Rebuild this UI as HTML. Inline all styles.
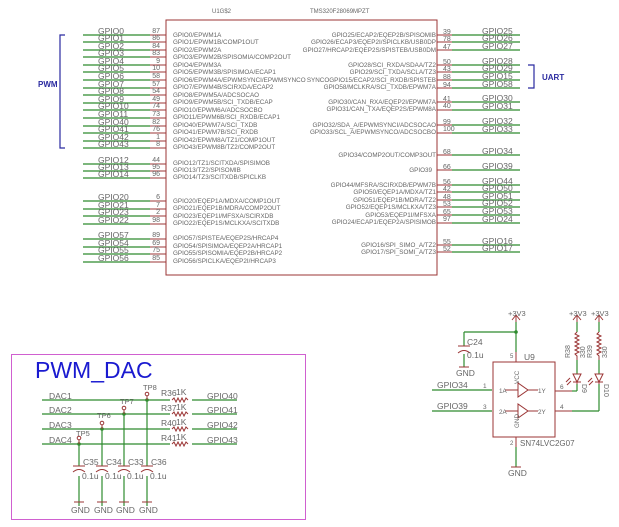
<!DOCTYPE html>
<html><head><meta charset="utf-8"><style>
html,body{margin:0;padding:0;background:#fff;width:619px;height:527px;overflow:hidden}
text{font-family:"Liberation Sans",Arial,sans-serif;fill:#666}
.g{stroke:#2e8b2e;stroke-width:1.2;fill:none}
.r{stroke:#9b3535;stroke-width:1;fill:none}
.lbl{font-size:8.5px;fill:#777}
.pn{font-size:7px;fill:#777}
.in{font-size:6.3px;fill:#666}
</style></head><body>
<svg width="619" height="527" viewBox="0 0 619 527" xmlns="http://www.w3.org/2000/svg">
<text x="212" y="13" font-size="6" fill="#666">U1G$2</text>
<text x="310" y="13" font-size="6" fill="#666">TMS320F28069MPZT</text>
<rect x="166" y="20" width="271" height="255" class="r"/>

<!-- left pins -->
<g id="L">
<g class="g">
<line x1="83" y1="35" x2="150" y2="35"/><line x1="83" y1="42" x2="150" y2="42"/><line x1="83" y1="50" x2="150" y2="50"/><line x1="83" y1="57" x2="150" y2="57"/><line x1="83" y1="65" x2="150" y2="65"/><line x1="83" y1="72" x2="150" y2="72"/><line x1="83" y1="80" x2="150" y2="80"/><line x1="83" y1="88" x2="150" y2="88"/><line x1="83" y1="95" x2="150" y2="95"/><line x1="83" y1="103" x2="150" y2="103"/><line x1="83" y1="110" x2="150" y2="110"/><line x1="83" y1="118" x2="150" y2="118"/><line x1="83" y1="126" x2="150" y2="126"/><line x1="83" y1="133" x2="150" y2="133"/><line x1="83" y1="141" x2="150" y2="141"/><line x1="83" y1="148" x2="150" y2="148"/>
<line x1="83" y1="164" x2="150" y2="164"/><line x1="83" y1="171" x2="150" y2="171"/><line x1="83" y1="178" x2="150" y2="178"/>
<line x1="83" y1="201" x2="150" y2="201"/><line x1="83" y1="209" x2="150" y2="209"/><line x1="83" y1="216" x2="150" y2="216"/><line x1="83" y1="224" x2="150" y2="224"/>
<line x1="83" y1="239" x2="150" y2="239"/><line x1="83" y1="247" x2="150" y2="247"/><line x1="83" y1="254" x2="150" y2="254"/><line x1="83" y1="262" x2="150" y2="262"/>
</g>
<g class="r">
<line x1="150" y1="35" x2="166" y2="35"/><line x1="150" y1="42" x2="166" y2="42"/><line x1="150" y1="50" x2="166" y2="50"/><line x1="150" y1="57" x2="166" y2="57"/><line x1="150" y1="65" x2="166" y2="65"/><line x1="150" y1="72" x2="166" y2="72"/><line x1="150" y1="80" x2="166" y2="80"/><line x1="150" y1="88" x2="166" y2="88"/><line x1="150" y1="95" x2="166" y2="95"/><line x1="150" y1="103" x2="166" y2="103"/><line x1="150" y1="110" x2="166" y2="110"/><line x1="150" y1="118" x2="166" y2="118"/><line x1="150" y1="126" x2="166" y2="126"/><line x1="150" y1="133" x2="166" y2="133"/><line x1="150" y1="141" x2="166" y2="141"/><line x1="150" y1="148" x2="166" y2="148"/>
<line x1="150" y1="164" x2="166" y2="164"/><line x1="150" y1="171" x2="166" y2="171"/><line x1="150" y1="178" x2="166" y2="178"/>
<line x1="150" y1="201" x2="166" y2="201"/><line x1="150" y1="209" x2="166" y2="209"/><line x1="150" y1="216" x2="166" y2="216"/><line x1="150" y1="224" x2="166" y2="224"/>
<line x1="150" y1="239" x2="166" y2="239"/><line x1="150" y1="247" x2="166" y2="247"/><line x1="150" y1="254" x2="166" y2="254"/><line x1="150" y1="262" x2="166" y2="262"/>
</g>
<g class="lbl">
<text x="98" y="34">GPIO0</text><text x="98" y="41">GPIO1</text><text x="98" y="49">GPIO2</text><text x="98" y="56">GPIO3</text><text x="98" y="64">GPIO4</text><text x="98" y="71">GPIO5</text><text x="98" y="79">GPIO6</text><text x="98" y="87">GPIO7</text><text x="98" y="94">GPIO8</text><text x="98" y="102">GPIO9</text><text x="98" y="109">GPIO10</text><text x="98" y="117">GPIO11</text><text x="98" y="125">GPIO40</text><text x="98" y="132">GPIO41</text><text x="98" y="140">GPIO42</text><text x="98" y="147">GPIO43</text>
<text x="98" y="163">GPIO12</text><text x="98" y="170">GPIO13</text><text x="98" y="177">GPIO14</text>
<text x="98" y="200">GPIO20</text><text x="98" y="208">GPIO21</text><text x="98" y="215">GPIO23</text><text x="98" y="223">GPIO22</text>
<text x="98" y="238">GPIO57</text><text x="98" y="246">GPIO54</text><text x="98" y="253">GPIO55</text><text x="98" y="261">GPIO56</text>
</g>
<g class="pn" text-anchor="end">
<text x="160" y="33">87</text><text x="160" y="40">86</text><text x="160" y="48">84</text><text x="160" y="55">83</text><text x="160" y="63">9</text><text x="160" y="70">10</text><text x="160" y="78">58</text><text x="160" y="86">57</text><text x="160" y="93">54</text><text x="160" y="101">49</text><text x="160" y="108">74</text><text x="160" y="116">73</text><text x="160" y="124">82</text><text x="160" y="131">76</text><text x="160" y="139">1</text><text x="160" y="146">8</text>
<text x="160" y="162">44</text><text x="160" y="169">95</text><text x="160" y="176">96</text>
<text x="160" y="199">6</text><text x="160" y="207">7</text><text x="160" y="214">2</text><text x="160" y="222">98</text>
<text x="160" y="237">89</text><text x="160" y="245">69</text><text x="160" y="252">75</text><text x="160" y="260">85</text>
</g>
<g class="in">
<text x="173" y="37">GPIO0/EPWM1A</text><text x="173" y="44">GPIO1/EPWM1B/COMP1OUT</text><text x="173" y="52">GPIO2/EPWM2A</text><text x="173" y="59">GPIO3/EPWM2B/SPISOMIA/COMP2OUT</text><text x="173" y="67">GPIO4/EPWM3A</text><text x="173" y="74">GPIO5/EPWM3B/SPISIMOA/ECAP1</text><text x="173" y="82">GPIO6/EPWM4A/EPWMSYNCI/EPWMSYNCO</text><text x="173" y="89">GPIO7/EPWM4B/SCIRXDA/ECAP2</text><text x="173" y="97">GPIO8/EPWM5A/ADCSOCAO</text><text x="173" y="104">GPIO9/EPWM5B/SCI_TXDB/ECAP</text><text x="173" y="112">GPIO10/EPWM6A/ADCSOCBO</text><text x="173" y="119">GPIO11/EPWM6B/SCI_RXDB/ECAP1</text><text x="173" y="127">GPIO40/EPWM7A/SCI_TXDB</text><text x="173" y="134">GPIO41/EPWM7B/SCI_RXDB</text><text x="173" y="142">GPIO42/EPWM8A/TZ1/COMP1OUT</text><text x="173" y="149">GPIO43/EPWM8B/TZ2/COMP2OUT</text>
<text x="173" y="165">GPIO12/TZ1/SCITXDA/SPISIMOB</text><text x="173" y="172">GPIO13/TZ2/SPISOMIB</text><text x="173" y="179">GPIO14/TZ3/SCITXDB/SPICLKB</text>
<text x="173" y="203">GPIO20/EQEP1A/MDXA/COMP1OUT</text><text x="173" y="210">GPIO21/EQEP1B/MDRA/COMP2OUT</text><text x="173" y="218">GPIO23/EQEP1I/MFSXA/SCIRXDB</text><text x="173" y="225">GPIO22/EQEP1S/MCLKXA/SCITXDB</text>
<text x="173" y="240">GPIO57/SPISTEA/EQEP2S/HRCAP4</text><text x="173" y="248">GPIO54/SPISIMOA/EQEP2A/HRCAP1</text><text x="173" y="255">GPIO55/SPISOMIA/EQEP2B/HRCAP2</text><text x="173" y="263">GPIO56/SPICLKA/EQEP2I/HRCAP3</text>
</g>
</g>

<!-- right pins -->
<g class="r">
<line x1="437" y1="35" x2="452" y2="35"/><line x1="437" y1="42" x2="452" y2="42"/><line x1="437" y1="50" x2="452" y2="50"/><line x1="437" y1="65" x2="452" y2="65"/><line x1="437" y1="72" x2="452" y2="72"/><line x1="437" y1="80" x2="452" y2="80"/><line x1="437" y1="88" x2="452" y2="88"/><line x1="437" y1="102" x2="452" y2="102"/><line x1="437" y1="110" x2="452" y2="110"/><line x1="437" y1="125" x2="452" y2="125"/><line x1="437" y1="133" x2="452" y2="133"/><line x1="437" y1="155" x2="452" y2="155"/><line x1="437" y1="170" x2="452" y2="170"/><line x1="437" y1="185" x2="452" y2="185"/><line x1="437" y1="192" x2="452" y2="192"/><line x1="437" y1="200" x2="452" y2="200"/><line x1="437" y1="207" x2="452" y2="207"/><line x1="437" y1="215" x2="452" y2="215"/><line x1="437" y1="223" x2="452" y2="223"/><line x1="437" y1="245" x2="452" y2="245"/><line x1="437" y1="252" x2="452" y2="252"/>
</g>
<g class="g">
<line x1="452" y1="35" x2="520" y2="35"/><line x1="452" y1="42" x2="520" y2="42"/><line x1="452" y1="50" x2="520" y2="50"/><line x1="452" y1="65" x2="520" y2="65"/><line x1="452" y1="72" x2="520" y2="72"/><line x1="452" y1="80" x2="520" y2="80"/><line x1="452" y1="88" x2="520" y2="88"/><line x1="452" y1="102" x2="520" y2="102"/><line x1="452" y1="110" x2="520" y2="110"/><line x1="452" y1="125" x2="520" y2="125"/><line x1="452" y1="133" x2="520" y2="133"/><line x1="452" y1="155" x2="520" y2="155"/><line x1="452" y1="170" x2="520" y2="170"/><line x1="452" y1="185" x2="520" y2="185"/><line x1="452" y1="192" x2="520" y2="192"/><line x1="452" y1="200" x2="520" y2="200"/><line x1="452" y1="207" x2="520" y2="207"/><line x1="452" y1="215" x2="520" y2="215"/><line x1="452" y1="223" x2="520" y2="223"/><line x1="452" y1="245" x2="520" y2="245"/><line x1="452" y1="252" x2="520" y2="252"/>
</g>
<g class="lbl">
<text x="482" y="34">GPIO25</text><text x="482" y="41">GPIO26</text><text x="482" y="49">GPIO27</text><text x="482" y="64">GPIO28</text><text x="482" y="71">GPIO29</text><text x="482" y="79">GPIO15</text><text x="482" y="87">GPIO58</text><text x="482" y="101">GPIO30</text><text x="482" y="109">GPIO31</text><text x="482" y="124">GPIO32</text><text x="482" y="132">GPIO33</text><text x="482" y="154">GPIO34</text><text x="482" y="169">GPIO39</text><text x="482" y="184">GPIO44</text><text x="482" y="191">GPIO50</text><text x="482" y="199">GPIO51</text><text x="482" y="206">GPIO52</text><text x="482" y="214">GPIO53</text><text x="482" y="222">GPIO24</text><text x="482" y="244">GPIO16</text><text x="482" y="251">GPIO17</text>
</g>
<g class="pn">
<text x="443" y="34">39</text><text x="443" y="41">78</text><text x="443" y="49">47</text><text x="443" y="64">50</text><text x="443" y="71">43</text><text x="443" y="79">88</text><text x="443" y="87">94</text><text x="443" y="101">41</text><text x="443" y="108">40</text><text x="443" y="124">99</text><text x="443" y="131">100</text><text x="443" y="154">68</text><text x="443" y="169">66</text><text x="443" y="184">56</text><text x="443" y="191">42</text><text x="443" y="199">48</text><text x="443" y="206">53</text><text x="443" y="214">65</text><text x="443" y="221">97</text><text x="443" y="244">55</text><text x="443" y="251">52</text>
</g>
<g class="in" text-anchor="end">
<text x="436" y="37">GPIO25/ECAP2/EQEP2B/SPISOMIB</text><text x="436" y="44">GPIO26/ECAP3/EQEP2I/SPICLKB/USB0DP</text><text x="436" y="52">GPIO27/HRCAP2/EQEP2S/SPISTEB/USB0DM</text><text x="436" y="67">GPIO28/SCI_RXDA/SDAA/TZ2</text><text x="436" y="74">GPIO29/SCI_TXDA/SCLA/TZ3</text><text x="436" y="82">SYNCOGPIO15/ECAP2/SCI_RXDB/SPISTEB</text><text x="436" y="89">GPIO58/MCLKRA/SCI_TXDB/EPWM7A</text><text x="436" y="104">GPIO30/CAN_RXA/EQEP2I/EPWM7A</text><text x="436" y="111">GPIO31/CAN_TXA/EQEP2S/EPWM8A</text><text x="436" y="127">GPIO32/SDA_A/EPWMSYNCI/ADCSOCAO</text><text x="436" y="134">GPIO33/SCL_A/EPWMSYNCO/ADCSOCBO</text><text x="436" y="157">GPIO34/COMP2OUT/COMP3OUT</text><text x="432" y="172">GPIO39</text><text x="436" y="187">GPIO44/MFSRA/SCIRXDB/EPWM7B</text><text x="436" y="194">GPIO50/EQEP1A/MDXA/TZ1</text><text x="436" y="202">GPIO51/EQEP1B/MDRA/TZ2</text><text x="436" y="209">GPIO52/EQEP1S/MCLKXA/TZ3</text><text x="436" y="217">GPIO53/EQEP1I/MFSXA</text><text x="436" y="224">GPIO24/ECAP1/EQEP2A/SPISIMOB</text><text x="436" y="247">GPIO16/SPI_SIMO_A/TZ2</text><text x="436" y="254">GPIO17/SPI_SOMI_A/TZ3</text>
</g>

<!-- brackets -->
<path d="M65,35 H60 V148 H65" stroke="#2a2aa0" stroke-width="1.2" fill="none"/>
<text x="38" y="87" font-size="8" font-weight="bold" fill="#2a2aa0" style="fill:#2a2aa0">PWM</text>
<path d="M528,65 H534 V88 H528" stroke="#2a2aa0" stroke-width="1.2" fill="none"/>
<text x="542" y="80" font-size="8" font-weight="bold" style="fill:#2a2aa0">UART</text>

<!-- PWM_DAC box -->
<rect x="11.5" y="354.5" width="294" height="165" stroke="#d060d0" stroke-width="1" fill="none"/>
<text x="35" y="378" font-size="23" style="fill:#1a1ad0">PWM_DAC</text>
<g class="g">
<line x1="42" y1="400" x2="170" y2="400"/><line x1="192" y1="400" x2="237" y2="400"/>
<line x1="42" y1="414" x2="170" y2="414"/><line x1="192" y1="414" x2="237" y2="414"/>
<line x1="42" y1="429" x2="170" y2="429"/><line x1="192" y1="429" x2="237" y2="429"/>
<line x1="42" y1="444" x2="170" y2="444"/><line x1="192" y1="444" x2="237" y2="444"/>
<line x1="79" y1="444" x2="79" y2="466"/><line x1="79" y1="476" x2="79" y2="506"/>
<line x1="102" y1="429" x2="102" y2="466"/><line x1="102" y1="476" x2="102" y2="506"/>
<line x1="124" y1="414" x2="124" y2="466"/><line x1="124" y1="476" x2="124" y2="506"/>
<line x1="147" y1="400" x2="147" y2="466"/><line x1="147" y1="476" x2="147" y2="506"/>
</g>
<g fill="#2e8b2e"><circle cx="79" cy="444" r="1.8"/><circle cx="102" cy="429" r="1.8"/><circle cx="124" cy="414" r="1.8"/><circle cx="147" cy="400" r="1.8"/></g>
<g class="r">
<circle cx="79" cy="438" r="1.8"/><line x1="79" y1="440" x2="79" y2="444"/>
<circle cx="102" cy="423" r="1.8"/><line x1="102" y1="425" x2="102" y2="429"/>
<circle cx="124" cy="408" r="1.8"/><line x1="124" y1="410" x2="124" y2="414"/>
<circle cx="147" cy="394" r="1.8"/><line x1="147" y1="396" x2="147" y2="400"/>
<path d="M172,400 l2,-2 l2,4 l2,-4 l2,4 l2,-4 l2,4 l2,-4 l2,2"/>
<path d="M172,414 l2,-2 l2,4 l2,-4 l2,4 l2,-4 l2,4 l2,-4 l2,2"/>
<path d="M172,429 l2,-2 l2,4 l2,-4 l2,4 l2,-4 l2,4 l2,-4 l2,2"/>
<path d="M172,444 l2,-2 l2,4 l2,-4 l2,4 l2,-4 l2,4 l2,-4 l2,2"/>
<line x1="73" y1="466" x2="85" y2="466"/><path d="M73,472 Q79,467 85,472"/>
<line x1="96" y1="466" x2="108" y2="466"/><path d="M96,472 Q102,467 108,472"/>
<line x1="118" y1="466" x2="130" y2="466"/><path d="M118,472 Q124,467 130,472"/>
<line x1="141" y1="466" x2="153" y2="466"/><path d="M141,472 Q147,467 153,472"/>
<line x1="74" y1="502" x2="84" y2="502"/><line x1="97" y1="502" x2="107" y2="502"/><line x1="119" y1="502" x2="129" y2="502"/><line x1="142" y1="502" x2="152" y2="502"/>
</g>
<g class="lbl">
<text x="49" y="399">DAC1</text><text x="49" y="413">DAC2</text><text x="49" y="428">DAC3</text><text x="49" y="443">DAC4</text>
<text x="207" y="399">GPIO40</text><text x="207" y="413">GPIO41</text><text x="207" y="428">GPIO42</text><text x="207" y="443">GPIO43</text>
<text x="161" y="396">R36</text><text x="176" y="395">1K</text>
<text x="161" y="411">R37</text><text x="176" y="410">1K</text>
<text x="161" y="426">R40</text><text x="176" y="425">1K</text>
<text x="161" y="441">R41</text><text x="176" y="440">1K</text>
<text x="76" y="436" font-size="7.5">TP5</text><text x="97" y="418" font-size="7.5">TP6</text><text x="120" y="404" font-size="7.5">TP7</text><text x="143" y="390" font-size="7.5">TP8</text>
<text x="83" y="465">C35</text><text x="106" y="465">C34</text><text x="128" y="465">C33</text><text x="151" y="465">C36</text>
<text x="82" y="479">0.1u</text><text x="105" y="479">0.1u</text><text x="127" y="479">0.1u</text><text x="150" y="479">0.1u</text>
<text x="71" y="513">GND</text><text x="94" y="513">GND</text><text x="116" y="513">GND</text><text x="139" y="513">GND</text>
</g>

<!-- U9 -->
<rect x="493" y="362" width="62" height="75" class="r"/>
<g class="g">
<line x1="516" y1="322" x2="516" y2="352"/><line x1="464" y1="332" x2="516" y2="332"/><line x1="464" y1="332" x2="464" y2="346"/>
<line x1="464" y1="354" x2="464" y2="367"/>
<line x1="432" y1="390" x2="492" y2="390"/><line x1="432" y1="411" x2="492" y2="411"/>
<line x1="572" y1="391" x2="577" y2="391"/><line x1="577" y1="391" x2="577" y2="384"/>
<line x1="572" y1="411" x2="599" y2="411"/><line x1="599" y1="411" x2="599" y2="384"/>
<line x1="577" y1="322" x2="577" y2="332"/><line x1="577" y1="360" x2="577" y2="374"/>
<line x1="599" y1="322" x2="599" y2="332"/><line x1="599" y1="360" x2="599" y2="374"/>
<line x1="516" y1="447" x2="516" y2="467"/>
</g>
<circle cx="516" cy="332" r="1.8" fill="#2e8b2e"/>
<g class="r">
<path d="M512,320 l4,-5 l4,5"/><line x1="516" y1="315" x2="516" y2="322"/>
<path d="M573,320 l4,-5 l4,5"/><line x1="577" y1="315" x2="577" y2="322"/>
<path d="M595,320 l4,-5 l4,5"/><line x1="599" y1="315" x2="599" y2="322"/>
<line x1="516" y1="352" x2="516" y2="362"/><line x1="516" y1="437" x2="516" y2="447"/>
<line x1="458" y1="346" x2="470" y2="346"/><path d="M458,353 Q464,348 470,353"/>
<line x1="459" y1="367" x2="469" y2="367"/><line x1="511" y1="467" x2="521" y2="467"/>
<line x1="555" y1="391" x2="572" y2="391"/><line x1="555" y1="411" x2="572" y2="411"/>
<path d="M577,332 l-2,2 l4,2 l-4,2 l4,2 l-4,2 l4,2 l-4,2 l4,2 l-4,2 l4,2 l-4,2 l2,2 V360"/>
<path d="M599,332 l-2,2 l4,2 l-4,2 l4,2 l-4,2 l4,2 l-4,2 l4,2 l-4,2 l4,2 l-4,2 l2,2 V360"/>
<path d="M573,374 h8 l-4,8 z M573,382 h8"/><line x1="577" y1="382" x2="577" y2="384"/>
<path d="M595,374 h8 l-4,8 z M595,382 h8"/><line x1="599" y1="382" x2="599" y2="384"/>
<line x1="566" y1="382" x2="570" y2="378"/><line x1="567" y1="385" x2="571" y2="381"/>
<line x1="588" y1="382" x2="592" y2="378"/><line x1="589" y1="385" x2="593" y2="381"/>
<path d="M518,383 v14 l10,-7 z"/><line x1="528" y1="390" x2="538" y2="390"/><line x1="505" y1="390" x2="518" y2="390"/>
<path d="M518,404 v14 l10,-7 z"/><line x1="528" y1="411" x2="538" y2="411"/><line x1="505" y1="411" x2="518" y2="411"/>
</g>
<g class="lbl">
<text x="508" y="316" font-size="7.5">+3V3</text><text x="569" y="316" font-size="7.5">+3V3</text><text x="591" y="316" font-size="7.5">+3V3</text>
<text x="467" y="345">C24</text><text x="467" y="358">0.1u</text><text x="456" y="376">GND</text>
<text x="524" y="360">U9</text><text x="510" y="358" font-size="6">5</text>
<text x="437" y="388">GPIO34</text><text x="437" y="409">GPIO39</text>
<text x="483" y="388" font-size="6.5">1</text><text x="483" y="409" font-size="6.5">3</text>
<text x="560" y="389" font-size="6.5">6</text><text x="560" y="409" font-size="6.5">4</text>
<text x="520" y="446" font-size="8">SN74LVC2G07</text>
<text x="508" y="476">GND</text><text x="510" y="445" font-size="6">2</text>
<text x="570" y="358" font-size="7" transform="rotate(-90 570 358)">R38</text>
<text x="585" y="358" font-size="7" transform="rotate(-90 585 358)">330</text>
<text x="592" y="358" font-size="7" transform="rotate(-90 592 358)">R39</text>
<text x="607" y="358" font-size="7" transform="rotate(-90 607 358)">330</text>
<text x="582" y="384" font-size="7" transform="rotate(90 582 384)">D9</text>
<text x="604" y="384" font-size="7" transform="rotate(90 604 384)">D10</text>
</g>
<g class="in" font-size="5.5">
<text x="499" y="393">1A</text><text x="538" y="393">1Y</text><text x="499" y="414">2A</text><text x="538" y="414">2Y</text>
<text x="519" y="384" transform="rotate(-90 519 384)">VCC</text>
<text x="519" y="428" transform="rotate(-90 519 428)">GND</text>
</g>
</svg>
</body></html>
